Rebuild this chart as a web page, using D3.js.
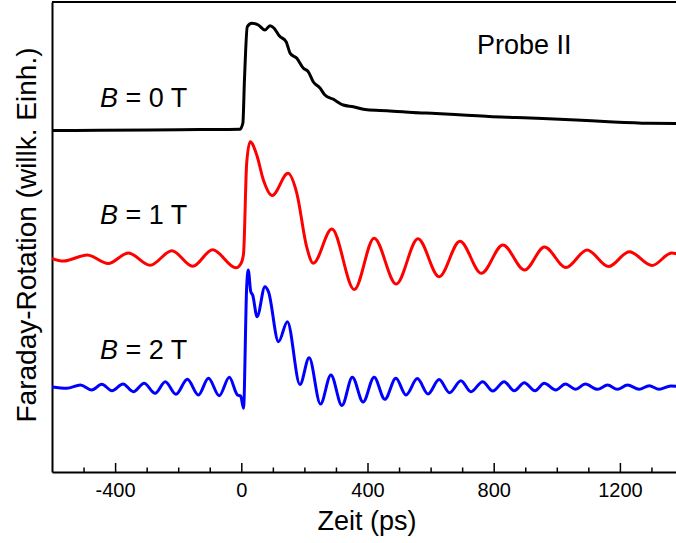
<!DOCTYPE html>
<html>
<head>
<meta charset="utf-8">
<script src="https://cdn.jsdelivr.net/npm/d3@7"></script>
<style>
  html, body { margin: 0; padding: 0; background: #fff; }
  svg { display: block; font-family: Arial, "Liberation Sans", sans-serif; }
</style>
</head>
<body>
<svg id="chart" width="676" height="543"></svg>
<script>
// ---- data (time in ps, Faraday rotation in arbitrary units) ----
const tB0 = [-600,-447,-289,-130,-4,5,10,19,33,54,75,91,104,121,142,155,176,197,212,228,250,265,292,323,355,392,440,481,544,617,702,785,871,956,1061,1165,1292,1400];
const vB0 = [34.15,34.17,34.2,34.24,34.28,34.9,39.2,44.53,44.87,44.7,44.2,44.63,44.37,43.6,43.03,41.87,41.37,40.37,40.03,39.03,38.37,37.7,37.27,36.7,36.53,36.25,36.15,36.08,35.95,35.85,35.7,35.55,35.45,35.35,35.2,35.03,34.88,34.85];

const tB1 = [-600,-564,-488,-422,-358,-289,-220,-154,-91,-17,-2,7,17,28,49,70,98,148,176,207,228,287,358,421,491,560,627,693,761,829,898,961,1029,1096,1164,1230,1302,1364,1400];
const vB1 = [21.37,21.1,21.7,20.85,21.9,20.67,22.12,20.57,22.23,20.42,20.8,21.8,30.87,33.03,31.7,29.2,27.65,29.87,27.87,22.53,20.87,24.3,18.25,23.37,18.8,23.32,19.53,23.08,19.87,22.7,20.2,22.5,20.45,22.2,20.55,22.03,20.65,21.9,21.6];

const tB2 = [-600,-553,-510,-474,-442,-410,-375,-342,-308,-273,-241,-207,-171,-136,-104,-70,-38,-12,-2,7,17,22,30,36,50,75,86,118,146,186,215,251,284,319,352,386,421,455,490,522,558,592,627,660,696,728,765,797,833,865,897,931,960,997,1027,1060,1090,1129,1161,1192,1224,1261,1293,1324,1361,1400];
const vB2 = [8.5,8.37,8.7,8.2,8.77,8.13,8.8,8.03,8.87,7.87,9.03,7.77,9.27,7.7,9.37,7.63,9.47,7.7,7.6,6.37,18.5,20.2,18.03,17.7,15.53,18.53,18.03,13.03,15.03,8.75,11.42,6.8,9.7,6.65,9.47,7.0,9.47,7.27,9.37,7.7,9.34,7.8,9.24,7.93,9.13,8.03,9.03,8.1,9.03,8.13,8.93,8.13,8.87,8.2,8.8,8.27,8.8,8.27,8.7,8.27,8.7,8.27,8.63,8.27,8.6,8.5];

const majorTicks = [-400, 0, 400, 800, 1200];
const majorTickLabels = ["-400", "0", "400", "800", "1200"];
const minorTicks = [-500,-300,-200,-100,100,200,300,500,600,700,900,1000,1100,1300];
const seriesLabels = ["0", "1", "2"];
const xDomain = [-600, 1400];
const yDomain = [0, 47];

// ---- layout ----
const svg = d3.select("#chart");
const mLeft = 52, mRight = 683, mTop = 2, mBottom = 472;

const x = d3.scaleLinear().domain(xDomain).range([mLeft, mRight]);
const y = d3.scaleLinear().domain(yDomain).range([mBottom, mTop]);

// top frame line
svg.append("line").attr("x1", mLeft).attr("x2", mRight).attr("y1", mTop).attr("y2", mTop)
  .attr("stroke", "#000").attr("stroke-width", 2);

// left axis (no ticks)
const yAxisG = svg.append("g").attr("transform", `translate(${mLeft},0)`)
  .call(d3.axisLeft(y).tickValues([]).tickSizeOuter(0));
yAxisG.select(".domain").attr("stroke-width", 2);

// bottom axis: minor ticks
const minorG = svg.append("g").attr("transform", `translate(0,${mBottom})`)
  .call(d3.axisBottom(x).tickValues(minorTicks).tickSizeInner(-4.5).tickSizeOuter(0).tickFormat(""));
minorG.select(".domain").remove();
minorG.selectAll("line").attr("stroke-width", 1.5);

// bottom axis: major ticks with labels
const majorG = svg.append("g").attr("transform", `translate(0,${mBottom})`)
  .call(d3.axisBottom(x).tickValues(majorTicks).tickSizeInner(-9).tickSizeOuter(0).tickPadding(10.5)
    .tickFormat((d, i) => majorTickLabels[i]));
majorG.select(".domain").attr("stroke-width", 2);
majorG.selectAll("line").attr("stroke-width", 1.5);
majorG.selectAll("text").attr("font-size", 20).attr("fill", "#000")
  .attr("font-family", "Arial, 'Liberation Sans', sans-serif");

// ---- curves ----
const series = [
  { t: tB0, v: vB0, color: "#000000", curve: d3.curveMonotoneX },
  { t: tB1, v: vB1, color: "#ff0000", curve: d3.curveMonotoneX },
  { t: tB2, v: vB2, color: "#0000ff", curve: d3.curveMonotoneX }
];
svg.append("clipPath").attr("id", "plotclip")
  .append("rect").attr("x", mLeft).attr("y", mTop).attr("width", mRight - mLeft).attr("height", mBottom - mTop);

series.forEach(s => {
  const pts = s.t.map((t, i) => [t, s.v[i]]);
  const line = d3.line().x(d => x(d[0])).y(d => y(d[1])).curve(s.curve);
  svg.append("path").datum(pts)
    .attr("d", line)
    .attr("fill", "none")
    .attr("stroke", s.color)
    .attr("stroke-width", 3)
    .attr("stroke-linejoin", "round")
    .attr("clip-path", "url(#plotclip)");
});

// ---- labels ----
const labelY = [106.7, 224.3, 359];
seriesLabels.forEach((lab, i) => {
  const t = svg.append("text").attr("x", 100).attr("y", labelY[i])
    .attr("font-size", 27).attr("fill", "#000");
  t.append("tspan").attr("font-style", "italic").text("B");
  t.append("tspan").text(" = " + lab + " T");
});

svg.append("text").attr("x", 477).attr("y", 54.3).attr("font-size", 27).attr("fill", "#000")
  .text("Probe II");

// axis titles
svg.append("text").attr("x", 367).attr("y", 530)
  .attr("text-anchor", "middle").attr("font-size", 27).attr("fill", "#000")
  .text("Zeit (ps)");

svg.append("text")
  .attr("transform", "translate(36,235) rotate(-90)")
  .attr("text-anchor", "middle").attr("font-size", 28).attr("fill", "#000")
  .text("Faraday-Rotation (willk. Einh.)");
</script>
</body>
</html>
